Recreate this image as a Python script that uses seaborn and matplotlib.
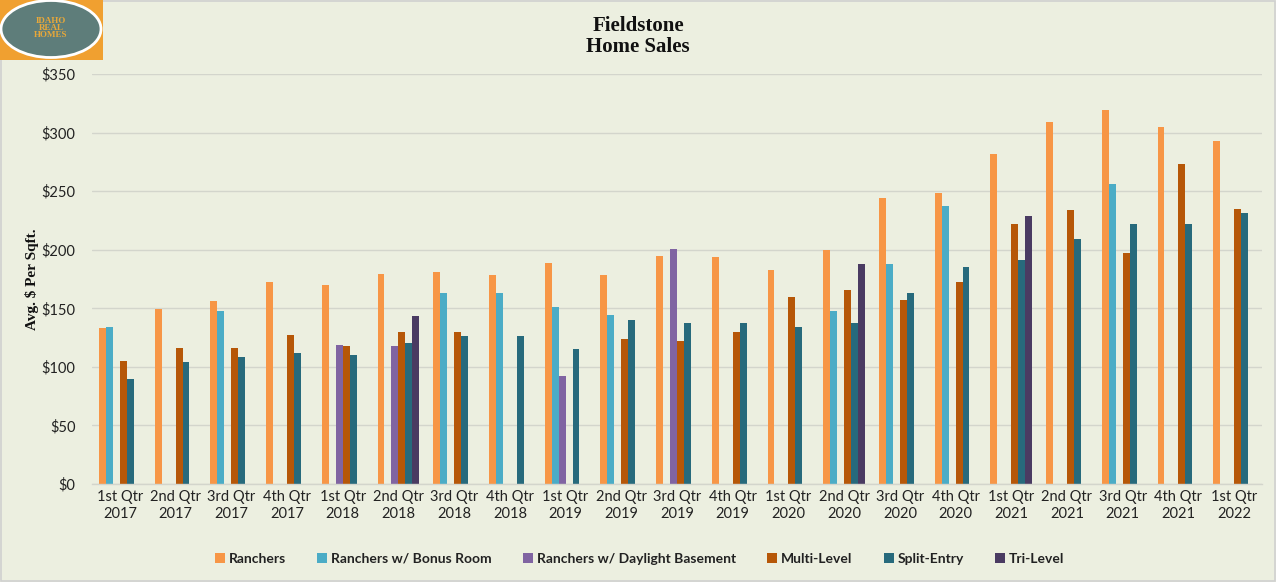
import numpy as np
import pandas as pd
import matplotlib
matplotlib.use("Agg")
import matplotlib.pyplot as plt
import seaborn as sns
from matplotlib.patches import Rectangle, Ellipse
from matplotlib.lines import Line2D

quarters = ["1st Qtr\n2017", "2nd Qtr\n2017", "3rd Qtr\n2017", "4th Qtr\n2017",
            "1st Qtr\n2018", "2nd Qtr\n2018", "3rd Qtr\n2018", "4th Qtr\n2018",
            "1st Qtr\n2019", "2nd Qtr\n2019", "3rd Qtr\n2019", "4th Qtr\n2019",
            "1st Qtr\n2020", "2nd Qtr\n2020", "3rd Qtr\n2020", "4th Qtr\n2020",
            "1st Qtr\n2021", "2nd Qtr\n2021", "3rd Qtr\n2021", "4th Qtr\n2021",
            "1st Qtr\n2022"]

nan = np.nan
ranchers = [133, 149, 156, 172, 170, 179, 181, 178, 189, 178, 195, 194, 183, 200,
            244, 248, 282, 309, 319, 305, 293]
bonus_room = [134, nan, 148, nan, nan, nan, 163, 163, 151, 144, nan, nan, nan, 148,
              188, 237, nan, nan, 256, nan, nan]
daylight = [nan, nan, nan, nan, 119, 118, nan, nan, 92, nan, 201, nan, nan, nan,
            nan, nan, nan, nan, nan, nan, nan]
multi_level = [105, 116, 116, 127, 118, 130, 130, nan, nan, 124, 122, 130, 160, 166,
               157, 172, 222, 234, 197, 273, 235]
split_entry = [90, 104, 108, 112, 110, 120, 126, 126, 115, 140, 137, 137, 134, 137,
               163, 185, 191, 209, 222, 222, 231]
tri_level = [nan, nan, nan, nan, nan, 143, nan, nan, nan, nan, nan, nan, nan, 188,
             nan, nan, 229, nan, nan, nan, nan]

series_names = ["Ranchers", "Ranchers w/ Bonus Room", "Ranchers w/ Daylight Basement",
                "Multi-Level", "Split-Entry", "Tri-Level"]
series_values = [ranchers, bonus_room, daylight, multi_level, split_entry, tri_level]
colors = ["#F79646", "#4BACC6", "#8064A2", "#B65708", "#276A7C", "#4A3B62"]

y_ticks = [0, 50, 100, 150, 200, 250, 300, 350]

rows = []
for name, vals in zip(series_names, series_values):
    for q, v in zip(quarters, vals):
        rows.append({"Quarter": q, "Type": name, "Value": v})
df = pd.DataFrame(rows).dropna()

bg = "#ECEFE0"
sns.set_theme(style="white")
plt.rcParams["font.family"] = ["Lato", "DejaVu Sans"]

fig = plt.figure(figsize=(12.76, 5.82), dpi=100, facecolor=bg)
ax = fig.add_axes([0.0721, 0.1684, 0.9169, 0.7045])
ax.set_facecolor(bg)

sns.barplot(data=df, x="Quarter", y="Value", hue="Type", order=quarters,
            hue_order=series_names, palette=colors, width=0.75, errorbar=None,
            linewidth=0, saturation=1, ax=ax, legend=False)

ax.set_xlim(-0.5, len(quarters) - 0.5)
ax.set_ylim(0, 350)
ax.set_yticks(y_ticks)
ax.set_yticklabels([f"${t}" for t in y_ticks], fontsize=10.5, color="#222222")
ax.tick_params(axis="x", labelsize=10.5, colors="#222222", length=0, pad=4)
ax.tick_params(axis="y", length=0, pad=12)
for lbl in ax.get_xticklabels():
    lbl.set_linespacing(1.3)
ax.grid(axis="y", color="#D3D5CC", linewidth=1)
ax.set_axisbelow(True)
for s in ["top", "right", "left"]:
    ax.spines[s].set_visible(False)
ax.spines["bottom"].set_color("#D3D5CC")
ax.spines["bottom"].set_linewidth(1)
ax.set_xlabel("")
ax.set_ylabel("Avg. $ Per Sqft.", fontsize=11, fontweight="bold",
              family="Liberation Serif", color="#111111")
ax.yaxis.set_label_coords(-0.045, 0.5)

fig.text(0.5, 0.972, "Fieldstone\nHome Sales", ha="center", va="top",
         fontsize=15, fontweight="bold", family="Liberation Serif",
         color="#111111", linespacing=1.05)

# legend
handles = [Line2D([0], [0], marker="s", linestyle="", markersize=7,
                  markerfacecolor=c, markeredgewidth=0) for c in colors]
leg = fig.legend(handles, series_names, loc="center", bbox_to_anchor=(0.5, 0.04),
                 ncol=6, frameon=False, handletextpad=0.05, columnspacing=2.0,
                 handlelength=1.2,
                 prop={"family": "Lato", "weight": "bold", "size": 10})
for t in leg.get_texts():
    t.set_color("#222222")

# logo
fig.patches.append(Rectangle((0, 1 - 60 / 582), 103 / 1276, 60 / 582,
                             transform=fig.transFigure, facecolor="#F0A030",
                             edgecolor="none", zorder=5))
fig.patches.append(Ellipse((51 / 1276, 1 - 29 / 582), 100 / 1276, 57 / 582,
                           transform=fig.transFigure, facecolor="#5E7D7A",
                           edgecolor="white", linewidth=2, zorder=6))
fig.text(51 / 1276, 1 - 28 / 582, "IDAHO\nREAL\nHOMES", ha="center", va="center",
         fontsize=6.5, fontweight="bold", family="Liberation Serif",
         color="#E8A83A", linespacing=0.9, zorder=7)

# figure border
fig.patches.append(Rectangle((0.0008, 0.0015), 0.9984, 0.997, transform=fig.transFigure,
                             facecolor="none", edgecolor="#D0D0D0", linewidth=1.2,
                             zorder=4))

fig.savefig("out.png", dpi=100, facecolor=bg)
